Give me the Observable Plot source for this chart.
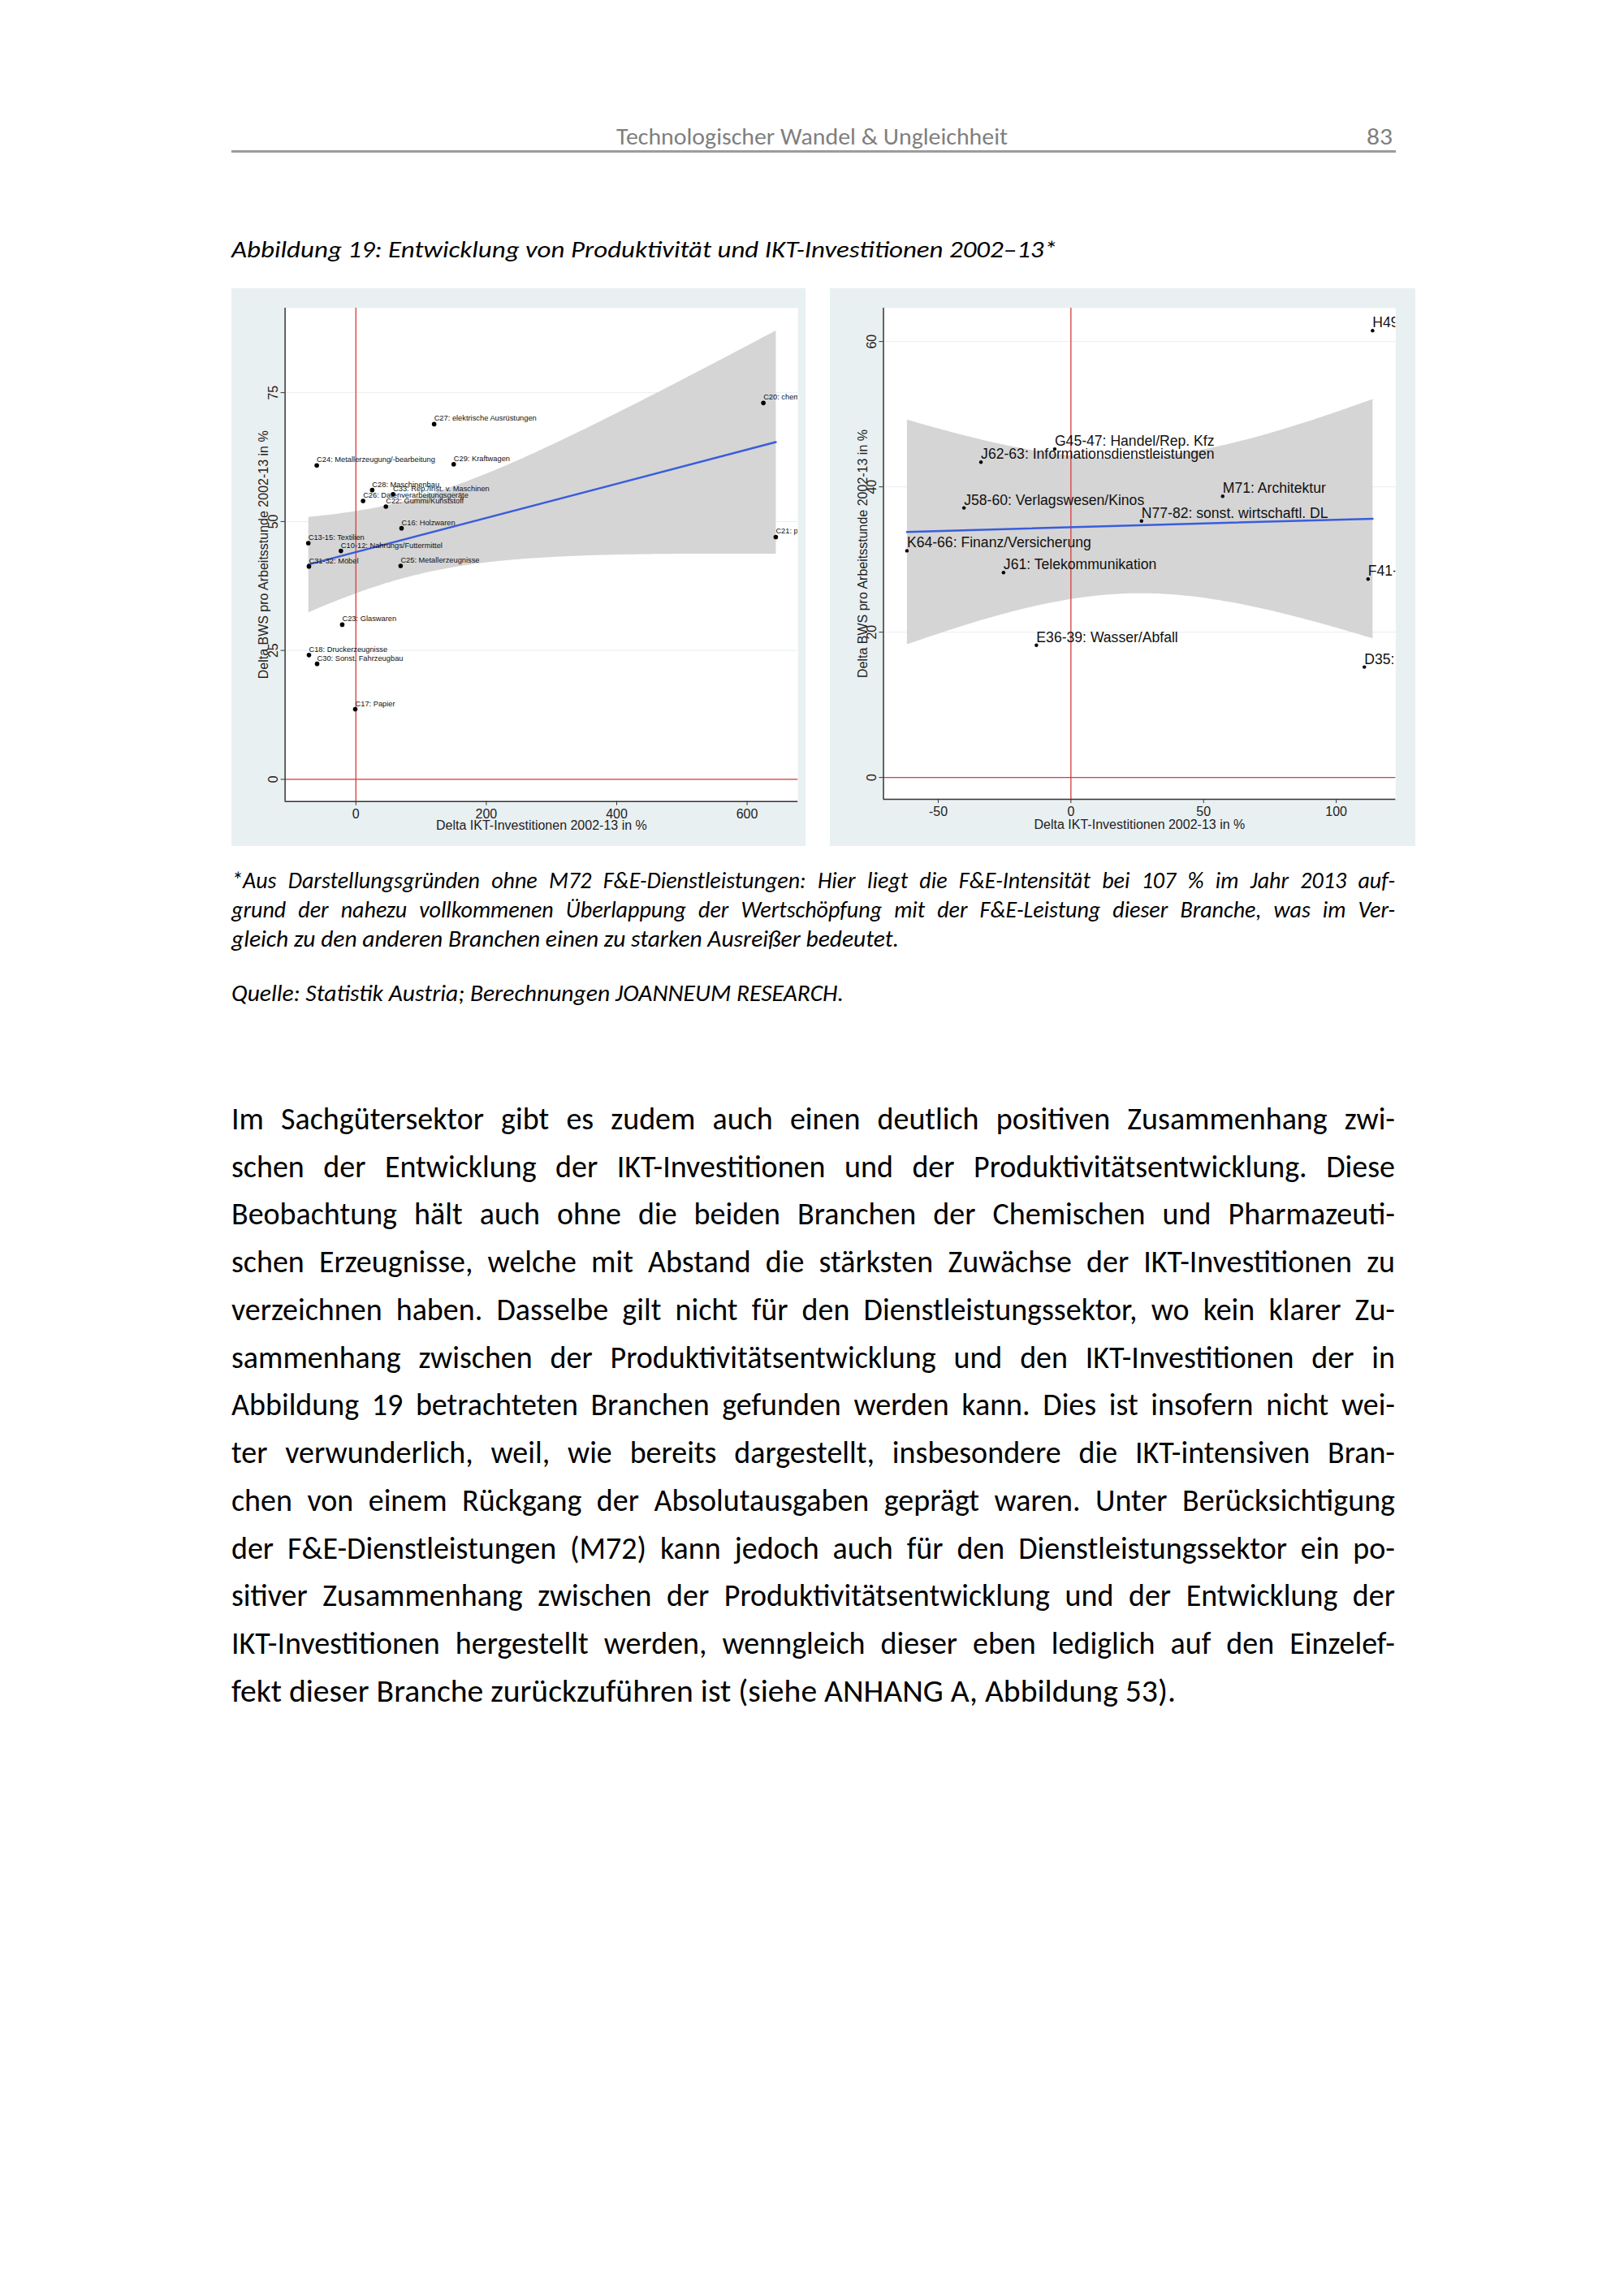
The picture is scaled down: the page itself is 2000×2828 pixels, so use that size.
<!DOCTYPE html>
<html><head><meta charset="utf-8">
<script src="https://cdn.jsdelivr.net/npm/d3@7"></script>
<script src="https://cdn.jsdelivr.net/npm/@observablehq/plot@0.6"></script>
<style>
html,body{margin:0;padding:0;background:#fff;}
#page{position:relative;width:2000px;height:2828px;background:#fff;overflow:hidden;font-family:Carlito,Lato,"Open Sans",sans-serif;color:#000;}
.ln{position:absolute;white-space:nowrap;line-height:1;transform-origin:0 0;}
.chart{position:absolute;}
</style></head><body><div id="page"></div>
<script>
// ---------- data ----------
const mfgLabels = ["C20: chemische Erzeugnisse","C27: elektrische Ausrüstungen","C24: Metallerzeugung/-bearbeitung","C29: Kraftwagen","C28: Maschinenbau","C33: Rep./Inst. v. Maschinen","C26: Datenverarbeitungsgeräte","C22: Gummi/Kunststoff","C16: Holzwaren","C21: pharmazeutische Erzeugnisse","C13-15: Textilien","C10-12: Nahrungs/Futtermittel","C31-32: Möbel","C25: Metallerzeugnisse","C23: Glaswaren","C18: Druckerzeugnisse","C30: Sonst. Fahrzeugbau","C17: Papier"];
const mfgIKT = [625, 120, -60, 150, 25, 57, 11, 46, 70, 644, -73, -23, -72, 68.6, -21, -72, -59.5, -1];
const mfgBWS = [73.0, 68.9, 60.9, 61.1, 56.1, 55.3, 54.0, 52.9, 48.7, 47.0, 45.8, 44.3, 41.3, 41.4, 30.0, 24.1, 22.4, 13.6];

const svcLabels = ["H49: Landverkehr","G45-47: Handel/Rep. Kfz","J62-63: Informationsdienstleistungen","M71: Architektur","J58-60: Verlagswesen/Kinos","N77-82: sonst. wirtschaftl. DL","K64-66: Finanz/Versicherung","J61: Telekommunikation","F41-43: Bau","E36-39: Wasser/Abfall","D35: Energieversorgung"];
const svcIKT = [113.7, -6.1, -33.9, 57.2, -40.3, 26.6, -61.8, -25.4, 112, -13, 110.6];
const svcBWS = [61.5, 45.2, 43.4, 38.7, 37.1, 35.3, 31.2, 28.2, 27.3, 18.2, 15.2];

const mfgXTicks = [0, 200, 400, 600];
const mfgYTicks = [0, 25, 50, 75];
const svcXTicks = [-50, 0, 50, 100];
const svcYTicks = [0, 20, 40, 60];
const mfgXDomain = [-108.6, 678];
const mfgYDomain = [-4.3, 91.4];
const svcXDomain = [-70.65, 122.4];
const svcYDomain = [-3.0, 64.6];

const xTitle = "Delta IKT-Investitionen 2002-13 in %";
const yTitle = "Delta BWS pro Arbeitsstunde 2002-13 in %";

const headerText = "Technologischer Wandel & Ungleichheit";
const pageNo = "83";
const captionText = "Abbildung 19: Entwicklung von Produktivität und IKT-Investitionen 2002–13*";
const noteLines = [
  "*Aus Darstellungsgründen ohne M72 F&E-Dienstleistungen: Hier liegt die F&E-Intensität bei 107 % im Jahr 2013 auf-",
  "grund der nahezu vollkommenen Überlappung der Wertschöpfung mit der F&E-Leistung dieser Branche, was im Ver-",
  "gleich zu den anderen Branchen einen zu starken Ausreißer bedeutet."
];
const sourceText = "Quelle: Statistik Austria; Berechnungen JOANNEUM RESEARCH.";
const bodyLines = [
  "Im Sachgütersektor gibt es zudem auch einen deutlich positiven Zusammenhang zwi-",
  "schen der Entwicklung der IKT-Investitionen und der Produktivitätsentwicklung. Diese",
  "Beobachtung hält auch ohne die beiden Branchen der Chemischen und Pharmazeuti-",
  "schen Erzeugnisse, welche mit Abstand die stärksten Zuwächse der IKT-Investitionen zu",
  "verzeichnen haben. Dasselbe gilt nicht für den Dienstleistungssektor, wo kein klarer Zu-",
  "sammenhang zwischen der Produktivitätsentwicklung und den IKT-Investitionen der in",
  "Abbildung 19 betrachteten Branchen gefunden werden kann. Dies ist insofern nicht wei-",
  "ter verwunderlich, weil, wie bereits dargestellt, insbesondere die IKT-intensiven Bran-",
  "chen von einem Rückgang der Absolutausgaben geprägt waren. Unter Berücksichtigung",
  "der F&E-Dienstleistungen (M72) kann jedoch auch für den Dienstleistungssektor ein po-",
  "sitiver Zusammenhang zwischen der Produktivitätsentwicklung und der Entwicklung der",
  "IKT-Investitionen hergestellt werden, wenngleich dieser eben lediglich auf den Einzelef-",
  "fekt dieser Branche zurückzuführen ist (siehe ANHANG A, Abbildung 53)."
];

// ---------- page text ----------
const page = document.getElementById("page");
function addLine(text, o) {
  const d = document.createElement("div");
  d.className = "ln";
  d.textContent = text;
  d.style.left = o.x + "px";
  d.style.fontSize = o.size + "px";
  d.style.top = (o.y - 0.634 * o.size) + "px";
  if (o.italic) d.style.fontStyle = "italic";
  if (o.color) d.style.color = o.color;
  page.appendChild(d);
  const nat = d.getBoundingClientRect().width;
  if (o.justify) {
    const spaces = (text.match(/ /g) || []).length;
    if (nat < o.w && spaces) d.style.wordSpacing = ((o.w - nat) / spaces) + "px";
    else if (nat > o.w) d.style.transform = `scaleX(${o.w / nat})`;
  } else if (o.w) {
    d.style.transform = `scaleX(${o.w / nat})`;
  }
  return d;
}
addLine(headerText, {x: 759, y: 173, size: 28, w: 482, color: "#7f7f7f"});
addLine(pageNo, {x: 1683, y: 173, size: 28, w: 32, color: "#7f7f7f"});
const rule = document.createElement("div");
rule.style.cssText = "position:absolute;left:285px;top:185px;width:1434px;height:3px;background:#9c9c9c;";
page.appendChild(rule);
addLine(captionText, {x: 285, y: 311, size: 29, w: 1017, italic: true});
const noteY = [1089, 1125, 1161];
noteLines.forEach((t, i) => addLine(t, {x: 285, y: noteY[i], size: 28, italic: true, w: i < 2 ? 1433 : 822, justify: i < 2}));
addLine(sourceText, {x: 285, y: 1228, size: 28, italic: true, w: 754});
bodyLines.forEach((t, i) => addLine(t, {x: 285, y: 1383 + i * 58.75, size: 38, w: i < bodyLines.length - 1 ? 1433 : 1163, justify: i < bodyLines.length - 1}));

// ---------- charts ----------
const RED = "#d43c3c", BLUE = "#3a5ddb", BAND = "#d5d5d5", BG = "#e9f0f2", AX = "#333";
const fmt = d => String(d);
function chart(cfg) {
  const rows = cfg.labels.map((l, i) => ({label: l, x: cfg.xs[i], y: cfg.ys[i]}));
  return Plot.plot({
    width: cfg.width, height: 687,
    marginLeft: cfg.ml, marginRight: cfg.mr, marginTop: 24, marginBottom: cfg.mb,
    style: {background: BG, fontFamily: "'Liberation Sans', Arial, sans-serif", fontSize: "16px", color: "#222"},
    x: {domain: cfg.xDomain},
    y: {domain: cfg.yDomain},
    marks: [
      Plot.frame({fill: "white", stroke: "none"}),
      Plot.gridY(cfg.yTicks, {stroke: "#e8eef0", strokeOpacity: 1, strokeWidth: 1}),
      Plot.linearRegressionY(rows, {x: "x", y: "y", stroke: "none", fill: BAND, fillOpacity: 1}),
      Plot.ruleX([0], {stroke: RED, strokeWidth: 1.3}),
      Plot.ruleY([0], {stroke: RED, strokeWidth: 1.3}),
      Plot.linearRegressionY(rows, {x: "x", y: "y", ci: 0, stroke: BLUE, strokeWidth: 2.5}),
      Plot.dot(rows, {x: "x", y: "y", r: cfg.r, fill: "black", stroke: "none"}),
      Plot.text(rows, {x: "x", y: "y", text: "label", textAnchor: "start", lineAnchor: "bottom", dy: -4, dx: 0, fontSize: cfg.labelSize, fill: "#111", clip: true}),
      Plot.ruleX([cfg.xDomain[0]], {stroke: AX, strokeWidth: 1.5}),
      Plot.ruleY([cfg.yDomain[0]], {stroke: AX, strokeWidth: 1.5}),
      Plot.axisX(cfg.xTicks, {tickSize: 5, tickPadding: 4, tickFormat: fmt, label: null, stroke: AX, fill: "#222"}),
      Plot.axisY(cfg.yTicks, {tickSize: 5, tickPadding: 4, tickFormat: fmt, tickRotate: -90, label: null, stroke: AX, fill: "#222"}),
      Plot.text([xTitle], {frameAnchor: "bottom", dy: cfg.xtdy, textAnchor: "middle", lineAnchor: "middle", fontSize: 16, fill: "#222"}),
      Plot.text([yTitle], {frameAnchor: "left", dx: cfg.ytdx, rotate: -90, textAnchor: "middle", lineAnchor: "middle", fontSize: 16, fill: "#222"})
    ]
  });
}
function place(svg, x, y) {
  const d = document.createElement("div");
  d.className = "chart";
  d.style.left = x + "px"; d.style.top = y + "px";
  d.appendChild(svg);
  page.appendChild(d);
}
place(chart({labels: mfgLabels, xs: mfgIKT, ys: mfgBWS, width: 707, ml: 65.6, mr: 9.8, mb: 55.3,
  xDomain: mfgXDomain, yDomain: mfgYDomain, xTicks: mfgXTicks, yTicks: mfgYTicks, r: 2.8, labelSize: 9.3, xtdy: 30, ytdx: -26.6}), 285, 355);
place(chart({labels: svcLabels, xs: svcIKT, ys: svcBWS, width: 721, ml: 65.5, mr: 24.7, mb: 58,
  xDomain: svcXDomain, yDomain: svcYDomain, xTicks: svcXTicks, yTicks: svcYTicks, r: 2.2, labelSize: 17.6, xtdy: 31, ytdx: -25.5}), 1022, 355);
</script>
</body></html>
